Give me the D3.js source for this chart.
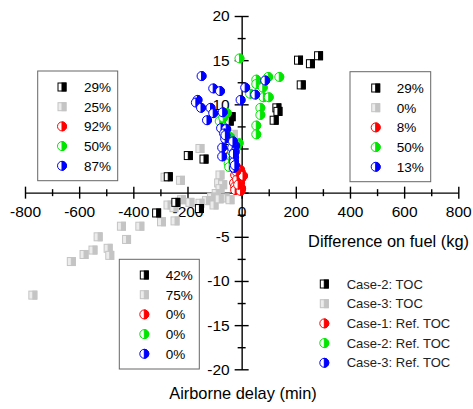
<!DOCTYPE html>
<html>
<head>
<meta charset="utf-8">
<script src="https://cdn.jsdelivr.net/npm/d3@7"></script>
<style>
  body { margin: 0; background: #fff; }
  svg text { font-family: "Liberation Sans", Arial, sans-serif; }
</style>
</head>
<body>
<div id="chart"></div>
<script>
// data: [fuel difference (kg), airborne delay (min)]
var case2Toc = [[210,15.0],[254,14.6],[284,15.5],[220,12.2],[130,9.6],[134,9.2],[120,8.2],
  [-39,8.6],[-46,8.1],[-197,4.2],[-139,3.8],[-271,1.8],[-314,-2.3],[-243,-1.1],[-156,-1.8]];
var case3Toc = [[-154,5.0],[-283,1.75],[-226,1.4],[-31,6.6],[-80,2.0],[-85,1.1],[-70,0.9],[-80,0.45],
  [-94,-0.1],[-111,-0.5],[-130,-0.9],[-154,-1.2],[-61,-0.6],[-222,-0.8],[-272,-1.4],[-250,-1.7],
  [-296,-3.3],[-246,-3.2],[-444,-3.8],[-376,-3.8],[-530,-5.0],[-425,-5.3],[-493,-6.3],[-487,-7.1],
  [-549,-6.5],[-582,-7.0],[-629,-7.8],[-771,-11.6],[-102,-1.4],[-191,-1.1],[-43,-0.8],[-83,-0.7]];
var case1Ref = [[-6,2.6],[-24,2.0],[-2,1.6],[-28,1.1],[-6,1.1],[-24,0.7],[-2,0.5],[-24,0.3],
  [-4,0.2],[-17,1.5],[-13,0.9],[5,1.9],[-20,2.4]];
var case2Ref = [[54,12.8],[54,12.3],[98,13.1],[139,13.1],[78,11.9],[31,11.2],[80,10.8],[100,10.8],
  [69,9.6],[69,8.8],[54,7.6],[54,6.6],
  [-8,15.2],[-55,9.0],[-81,8.1],[-68,8.5],[-65,7.4],[-43,6.3],[-11,5.6],[-20,5.1],[-35,4.6],
  [-36,3.7],[-48,3.3],[-46,2.9]];
var case3Ref = [[-148,13.2],[-105,11.8],[-80,11.5],[-163,10.5],[-169,10.2],[-150,9.6],[-115,9.6],
  [-105,9.0],[-70,9.1],[-128,8.2],[-76,7.3],[-57,7.2],[-65,6.7],[-61,6.1],[-24,5.3],[-72,5.1],
  [-35,5.1],[-26,4.6],[-72,4.1],[-28,4.0],[-28,3.5],[-28,2.8],[-30,4.4],[-25,3.1],[-60,6.5],[-32,5.8],
  [13,11.9],[50,11.1],[-4,10.5],[87,12.7]];

var seriesNames = ["Case-2: TOC", "Case-3: TOC", "Case-1: Ref. TOC", "Case-2: Ref. TOC", "Case-3: Ref. TOC"];
var pctTopLeft = ["29%", "25%", "92%", "50%", "87%"];
var pctTopRight = ["29%", "0%", "8%", "50%", "13%"];
var pctBottomLeft = ["42%", "75%", "0%", "0%", "0%"];

var xMajor = [-800,-600,-400,-200,0,200,400,600,800];
var xMinor = [-700,-500,-300,-100,100,300,500,700];
var yMajor = [-20,-15,-10,-5,0,5,10,15,20];
var yMinor = [-17.5,-12.5,-7.5,-2.5,2.5,7.5,12.5,17.5];

var W = 473, H = 409;
var svg = d3.select("#chart").append("svg").attr("width", W).attr("height", H);

var x = d3.scaleLinear().domain([-800, 800]).range([25, 458.3]);
var y = d3.scaleLinear().domain([-20, 20]).range([369.3, 16]);

// marker styles per series
var styles = [
  {shape: "sq", stroke: "#000", left: "#fff", right: "#000"},
  {shape: "sq", stroke: "#c4c4c4", left: "#ececec", right: "#c4c4c4"},
  {shape: "ci", stroke: "#ff0000", left: "#fff", right: "#ff0000"},
  {shape: "ci", stroke: "#00e600", left: "#fff", right: "#00e600"},
  {shape: "ci", stroke: "#0000ff", left: "#fff", right: "#0000ff"}
];

function marker(g, cx, cy, st) {
  if (st.shape == "sq") {
    var s = 8;
    g.append("rect").attr("x", cx - s/2).attr("y", cy - s/2).attr("width", s).attr("height", s)
      .attr("fill", st.left).attr("stroke", st.stroke).attr("stroke-width", 1);
    g.append("rect").attr("x", cx).attr("y", cy - s/2).attr("width", s/2).attr("height", s)
      .attr("fill", st.right).attr("stroke", st.stroke).attr("stroke-width", 1);
  } else {
    var r = 4.5;
    g.append("circle").attr("cx", cx).attr("cy", cy).attr("r", r)
      .attr("fill", st.left).attr("stroke", st.stroke).attr("stroke-width", 1);
    g.append("path")
      .attr("d", "M" + cx + "," + (cy - r) + " A" + r + "," + r + " 0 0 1 " + cx + "," + (cy + r) + " Z")
      .attr("fill", st.right).attr("stroke", st.stroke).attr("stroke-width", 1);
  }
}

// axes
var gx = svg.append("g").attr("transform", "translate(0," + y(0) + ")");
gx.call(d3.axisBottom(x).tickValues(xMajor).tickSize(6).tickSizeOuter(0).tickPadding(7)
  .tickFormat(function(d){ return d; }));
gx.selectAll(".tick line").attr("y1", -6);
var gxm = svg.append("g").attr("transform", "translate(0," + y(0) + ")");
gxm.call(d3.axisBottom(x).tickValues(xMinor).tickSize(3.5).tickFormat(""));
gxm.select(".domain").remove();
gxm.selectAll(".tick line").attr("y1", -3.5);

var gy = svg.append("g").attr("transform", "translate(" + x(0) + ",0)");
gy.call(d3.axisLeft(y).tickValues(yMajor).tickSize(7).tickSizeOuter(0).tickPadding(5)
  .tickFormat(function(d){ return d == 0 ? "" : d; }));
gy.selectAll(".tick line").attr("x1", 7);
var gym = svg.append("g").attr("transform", "translate(" + x(0) + ",0)");
gym.call(d3.axisLeft(y).tickValues(yMinor).tickSize(4).tickFormat(""));
gym.select(".domain").remove();
gym.selectAll(".tick line").attr("x1", 4);

svg.selectAll(".domain, .tick line").attr("stroke", "#000").attr("stroke-width", 1.4);
svg.selectAll(".tick text").attr("font-size", "15.5px").attr("fill", "#000")
  .attr("font-family", "Liberation Sans, Arial, sans-serif");

svg.append("text").attr("x", 469).attr("y", 247).attr("text-anchor", "end")
  .attr("font-size", "16.4px").text("Difference on fuel (kg)");
svg.append("text").attr("x", 243).attr("y", 399).attr("text-anchor", "middle")
  .attr("font-size", "16.4px").text("Airborne delay (min)");

// points
var allSeries = [case3Toc, case2Toc, case1Ref, case2Ref, case3Ref];
var styleIdx = [1, 0, 2, 3, 4];
allSeries.forEach(function(data, k) {
  var g = svg.append("g");
  data.forEach(function(d) { marker(g, x(d[0]), y(d[1]), styles[styleIdx[k]]); });
});

// quadrant percentage boxes
function pctBox(x0, y0, w, h, mx, tx, rowY, labels) {
  var g = svg.append("g");
  g.append("rect").attr("x", x0).attr("y", y0).attr("width", w).attr("height", h)
    .attr("fill", "#fff").attr("stroke", "#666").attr("stroke-width", 1);
  labels.forEach(function(t, i) {
    var cy = rowY + i * 19.7;
    marker(g, mx, cy, styles[i]);
    g.append("text").attr("x", tx).attr("y", cy).attr("dy", "0.36em")
      .attr("font-size", "13.5px").text(t);
  });
}
pctBox(37.7, 71, 80, 109.7, 62, 84, 87, pctTopLeft);
pctBox(350, 71.7, 80.7, 110, 375.7, 396.7, 88, pctTopRight);
pctBox(119.3, 259.3, 80, 109.7, 144.3, 165.7, 275, pctBottomLeft);

// series legend
var lg = svg.append("g");
seriesNames.forEach(function(t, i) {
  var cy = 284 + i * 19.7;
  marker(lg, 324.3, cy, styles[i]);
  lg.append("text").attr("x", 346.7).attr("y", cy).attr("dy", "0.36em")
    .attr("font-size", "13px").attr("fill", "#222").text(t);
});
</script>
</body>
</html>
